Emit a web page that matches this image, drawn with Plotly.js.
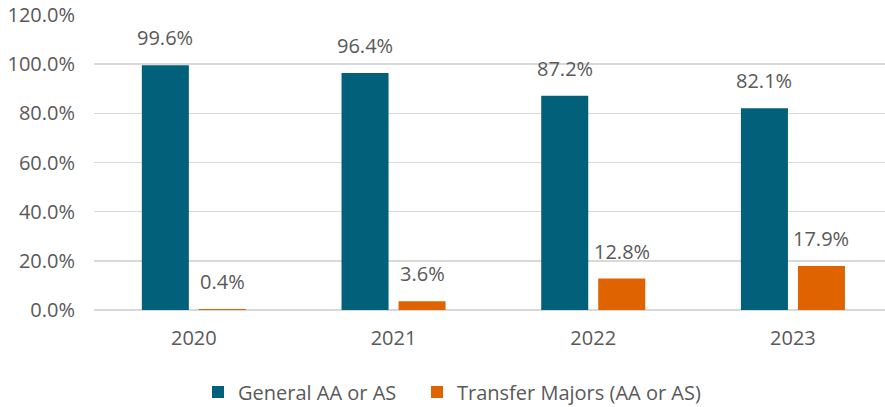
<!DOCTYPE html>
<html>
<head>
<meta charset="utf-8">
<script src="https://cdn.plot.ly/plotly-3.0.1.min.js"></script>
<style>html,body{margin:0;padding:0;background:#fff;}#chart{width:885px;height:407px;}</style>
</head>
<body>
<div id="chart"></div>
<script>
const years = ['2020', '2021', '2022', '2023'];
const generalAA = [0.996, 0.964, 0.872, 0.821];
const transferMajors = [0.004, 0.036, 0.128, 0.179];
const seriesNames = ['General AA or AS', 'Transfer Majors (AA or AS)'];
const yTickVals = [0, 0.2, 0.4, 0.6, 0.8, 1.0, 1.2];

const FONT = '"Open Sans", "Noto Sans", sans-serif';
const FS = 20;
const GRAY = '#595959';
const TEAL = '#02607A';
const ORANGE = '#DF6400';

const traces = [
  { type: 'bar', name: seriesNames[0], x: years, y: generalAA, marker: { color: TEAL }, hoverinfo: 'none', legend: 'legend' },
  { type: 'bar', name: seriesNames[1], x: years, y: transferMajors, marker: { color: ORANGE }, hoverinfo: 'none', legend: 'legend2' }
];

const fmt = v => (v * 100).toFixed(1) + '%';
const annotations = [];
[generalAA, transferMajors].forEach((series, si) => {
  series.forEach((v, i) => {
    annotations.push({
      x: i, y: v, xref: 'x', yref: 'y',
      text: fmt(v), showarrow: false,
      xanchor: 'center', yanchor: 'bottom',
      xshift: si === 0 ? -28.5 : 28.5, yshift: 12,
      font: { family: FONT, size: FS, color: GRAY }
    });
  });
});

const legendBase = {
  orientation: 'h', xref: 'container', yref: 'container',
  xanchor: 'left', y: 15 / 407, yanchor: 'middle',
  font: { family: FONT, size: FS, color: GRAY },
  bgcolor: 'rgba(0,0,0,0)'
};

const layout = {
  width: 885, height: 407,
  margin: { l: 94, r: 0, t: 15, b: 97 },
  paper_bgcolor: '#ffffff', plot_bgcolor: '#ffffff',
  font: { family: FONT, size: FS, color: GRAY },
  barmode: 'group', bargap: 0.429, bargroupgap: 0.175,
  showlegend: true,
  legend: Object.assign({}, legendBase, { x: 198 / 885 }),
  legend2: Object.assign({}, legendBase, { x: 417 / 885 }),
  xaxis: {
    type: 'category', range: [-0.5, 3.461], fixedrange: true,
    showgrid: false, zeroline: false, showline: false,
    ticks: '', ticklabelstandoff: 14,
    tickfont: { family: FONT, size: FS, color: GRAY }
  },
  yaxis: {
    range: [0, 1.2], tickvals: yTickVals, tickformat: '.1%',
    showgrid: true, gridcolor: '#D9D9D9', gridwidth: 1.5,
    zeroline: true, zerolinecolor: '#D9D9D9', zerolinewidth: 1.5,
    showline: false, ticks: '', ticklabelstandoff: 18,
    tickfont: { family: FONT, size: FS, color: GRAY }, fixedrange: true
  },
  annotations: annotations
};

Plotly.newPlot('chart', traces, layout, { displayModeBar: false, staticPlot: true });
</script>
</body>
</html>
